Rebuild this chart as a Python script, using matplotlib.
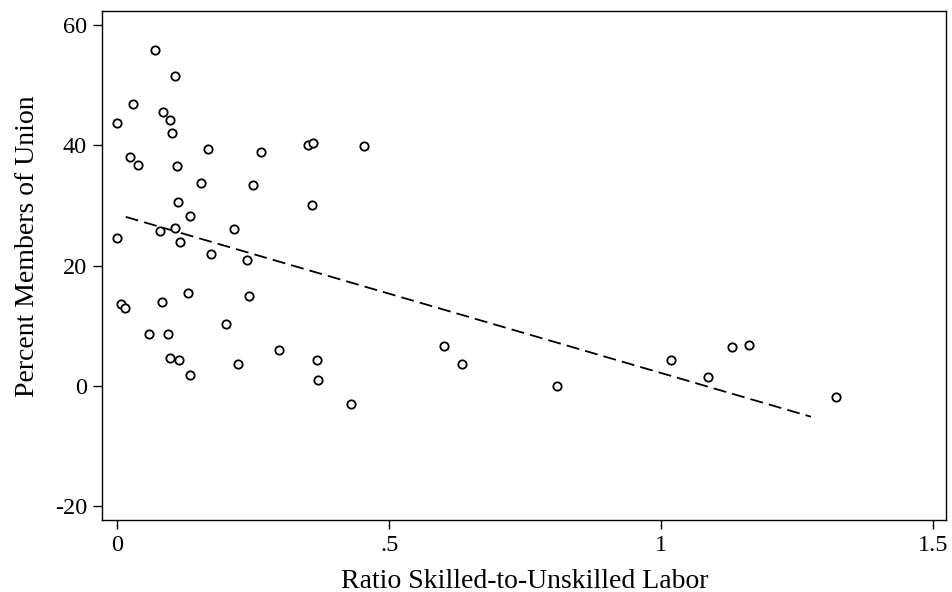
import matplotlib
matplotlib.use("Agg")
import matplotlib.pyplot as plt

# Skill ratio (skilled / unskilled labor) and union membership share, by state
skill_ratio = [
    0.070, 0.1055, 0.028, 0.0846, 0.097, -0.001, 0.1006, 0.167, 0.2636, 0.0233,
    0.0375, 0.109, 0.153, 0.249, 0.112, 0.134, 0.079, 0.106, 0.215, -0.001,
    0.116, 0.172, 0.238, 0.129, 0.2415, 0.006, 0.014, 0.0816, 0.199, 0.0577,
    0.094, 0.2966, 0.097, 0.114, 0.2225, 0.134, 0.351, 0.360, 0.454, 0.357,
    0.600, 0.3665, 0.634, 0.3695, 0.430, 0.808, 1.018, 1.085, 1.130, 1.162,
    1.322,
]
union_pct = [
    55.8, 51.5, 46.8, 45.6, 44.2, 43.7, 42.0, 39.4, 38.8, 38.0,
    36.7, 36.6, 33.7, 33.4, 30.6, 28.2, 25.8, 26.2, 26.1, 24.6,
    24.0, 22.0, 21.0, 15.4, 14.95, 13.7, 12.96, 13.9, 10.3, 8.6,
    8.6, 6.0, 4.6, 4.3, 3.7, 1.8, 40.1, 40.4, 39.8, 30.0,
    6.7, 4.4, 3.6, 1.05, -3.0, 0.05, 4.27, 1.44, 6.47, 6.8,
    -1.77,
]

# Fitted linear trend (end points)
fit_x = [0.0154, 1.275]
fit_y = [28.1, -5.1]

x_ticks = [0, 0.5, 1, 1.5]
x_tick_labels = ["0", ".5", "1", "1.5"]
y_ticks = [-20, 0, 20, 40, 60]
y_tick_labels = ["-20", "0", "20", "40", "60"]

plt.rcParams["font.family"] = ["Liberation Serif", "DejaVu Serif"]

fig = plt.figure(figsize=(9.52, 5.92), dpi=100)
ax = fig.add_axes([0.1075, 0.1216, 0.8866, 0.8598])

ax.plot(skill_ratio, union_pct, linestyle="none", marker="o",
        markersize=6.0, markerfacecolor="white", markeredgecolor="black",
        markeredgewidth=1.3, zorder=3)
ax.plot(fit_x, fit_y, color="black", linewidth=1.3,
        dashes=(7.2, 3.4), zorder=2)

ax.set_xlim(-0.0276, 1.524)
ax.set_ylim(-22.26, 62.3)
ax.set_xticks(x_ticks)
ax.set_xticklabels(x_tick_labels)
ax.set_yticks(y_ticks)
ax.set_yticklabels(y_tick_labels)

ax.tick_params(direction="out", length=6.5, width=1.0, colors="black",
               labelsize=17.5, pad=4.5)
for sp in ax.spines.values():
    sp.set_color("black")
    sp.set_linewidth(1.0)

ax.set_xlabel("Ratio Skilled-to-Unskilled Labor", fontsize=20, labelpad=9)
ax.set_ylabel("Percent Members of Union", fontsize=20)
ax.yaxis.set_label_coords(-0.074, 0.538)

fig.savefig("out.png", dpi=100, facecolor="white")
